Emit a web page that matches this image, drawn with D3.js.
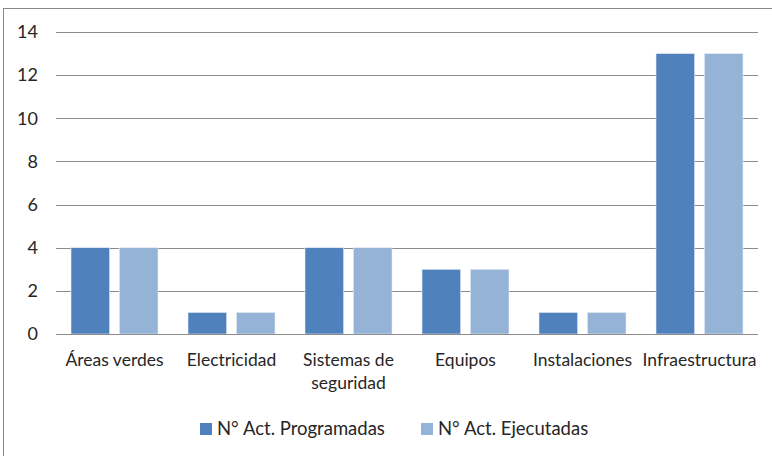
<!DOCTYPE html>
<html><head><meta charset="utf-8">
<script src="https://cdn.jsdelivr.net/npm/d3@7"></script>
<style>
html,body{margin:0;padding:0;background:#fff;}
svg{display:block;}
text{font-family:Lato,"Open Sans",sans-serif;fill:#262626;}
</style></head>
<body>
<svg id="chart" width="772" height="456"></svg>
<script>
const categories = ["Áreas verdes", "Electricidad", "Sistemas de seguridad", "Equipos", "Instalaciones", "Infraestructura"];
const categoryLines = [["Áreas verdes"], ["Electricidad"], ["Sistemas de", "seguridad"], ["Equipos"], ["Instalaciones"], ["Infraestructura"]];
const seriesNames = ["N° Act. Programadas", "N° Act. Ejecutadas"];
const programadas = [4, 1, 4, 3, 1, 13];
const ejecutadas = [4, 1, 4, 3, 1, 13];
const yTicks = [0, 2, 4, 6, 8, 10, 12, 14];
const colors = ["#4F81BD", "#95B3D7"];

(function () {
const svg = d3.select("#chart");
// outer chart border (only top/left visible in the reference)
svg.append("rect").attr("x", 3.5).attr("y", 8.5).attr("width", 800).attr("height", 500)
  .attr("fill", "none").attr("stroke", "#888").attr("stroke-width", 1);

const pLeft = 56, pRight = 758, pTop = 32, pBottom = 334;
const y = d3.scaleLinear().domain([0, 14]).range([pBottom, pTop]);
const x0 = d3.scaleBand().domain(categories).range([pLeft, pRight]).padding(0);
const x1 = d3.scaleBand().domain(seriesNames).range([15, x0.bandwidth() - 15]).paddingInner(0.2);

// gridlines
const yAxis = d3.axisLeft(y).tickValues(yTicks).tickSize(-(pRight - pLeft)).tickPadding(18).tickFormat(d3.format("d"));
const gy = svg.append("g").attr("transform", `translate(${pLeft},0)`).call(yAxis);
gy.select(".domain").remove();
gy.selectAll(".tick line").attr("stroke", "#8c8c8c").attr("stroke-width", 1)
  .attr("shape-rendering", "crispEdges");
gy.selectAll(".tick text").attr("font-size", 18).attr("fill", "#262626")
  .style("font-family", "Lato, sans-serif");

// bars
const data = categories.map((c, i) => ({cat: c, values: [programadas[i], ejecutadas[i]]}));
const groups = svg.append("g").selectAll("g").data(data).join("g")
  .attr("transform", d => `translate(${x0(d.cat)},0)`);
groups.selectAll("rect").data(d => d.values.map((v, j) => ({name: seriesNames[j], v, j})))
  .join("rect")
  .attr("x", d => x1(d.name))
  .attr("y", d => y(d.v))
  .attr("width", x1.bandwidth())
  .attr("height", d => y(0) - y(d.v))
  .attr("fill", d => colors[d.j])
  .attr("stroke", "#e8eef6").attr("stroke-width", 0.6);

// baseline on top
svg.append("line").attr("x1", pLeft).attr("x2", pRight).attr("y1", y(0) + 0.5).attr("y2", y(0) + 0.5)
  .attr("stroke", "#8c8c8c");

// category labels
const lab = svg.append("g").selectAll("text").data(categories).join("text")
  .attr("x", d => x0(d) + x0.bandwidth() / 2)
  .attr("y", 366)
  .attr("text-anchor", "middle")
  .attr("font-size", 17.5);
lab.each(function(d, i) {
  const t = d3.select(this);
  categoryLines[i].forEach((line, k) => {
    t.append("tspan").attr("x", x0(d) + x0.bandwidth() / 2).attr("dy", k === 0 ? 0 : 23).text(line);
  });
});

// legend
const legendX = [200, 421];
const leg = svg.append("g").selectAll("g").data(seriesNames).join("g")
  .attr("transform", (d, i) => `translate(${legendX[i]},423)`);
leg.append("rect").attr("width", 12).attr("height", 12).attr("fill", (d, i) => colors[i]);
leg.append("text").attr("x", 17).attr("y", 12).attr("font-size", 18.5).text(d => d);
})();
</script>
</body></html>
